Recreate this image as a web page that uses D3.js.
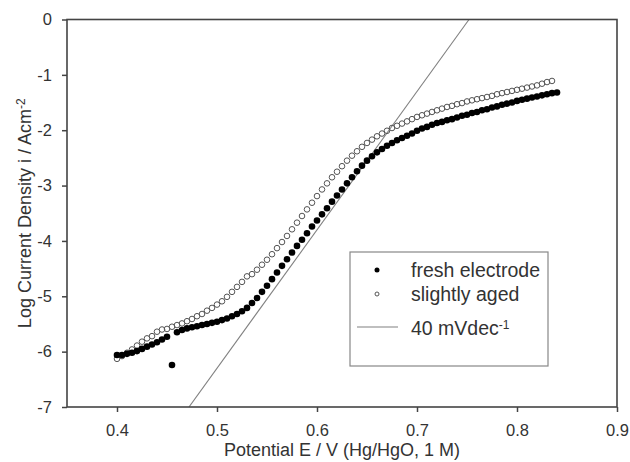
<!DOCTYPE html>
<html>
<head>
<meta charset="utf-8">
<script src="https://cdn.jsdelivr.net/npm/d3@7"></script>
<style>
  body { margin: 0; background: #fff; }
  text { font-family: "Liberation Sans", Arial, sans-serif; fill: #333; }
</style>
</head>
<body>
<div id="graph"></div>
<script>
// potential E / V, sampled every 5 mV
var freshE0 = 0.400, agedE0 = 0.400, stepE = 0.005

// log current density, fresh electrode (filled dots)
var freshLogI = [
  -6.06, -6.06, -6.04, -6.02, -5.99, -5.95, -5.91, -5.87, -5.83, -5.78,
  -5.73, -6.24, -5.65, -5.61, -5.58, -5.56, -5.54, -5.52, -5.50, -5.48,
  -5.46, -5.43, -5.40, -5.36, -5.32, -5.27, -5.21, -5.12, -5.03, -4.92,
  -4.81, -4.69, -4.57, -4.45, -4.33, -4.21, -4.09, -3.98, -3.86, -3.74,
  -3.63, -3.52, -3.41, -3.29, -3.18, -3.07, -2.96, -2.85, -2.74, -2.64,
  -2.55, -2.47, -2.40, -2.34, -2.28, -2.23, -2.18, -2.14, -2.10, -2.06,
  -2.01, -1.97, -1.94, -1.90, -1.87, -1.85, -1.82, -1.80, -1.77, -1.74,
  -1.72, -1.69, -1.67, -1.64, -1.62, -1.59, -1.57, -1.54, -1.52, -1.50,
  -1.47, -1.45, -1.43, -1.41, -1.39, -1.37, -1.35, -1.33, -1.32
]

// log current density, slightly aged (open circles)
var agedLogI = [
  -6.13, -6.08, -6.02, -5.96, -5.89, -5.82, -5.76, -5.72, -5.64, -5.60,
  -5.59, -5.55, -5.52, -5.49, -5.45, -5.41, -5.36, -5.32, -5.26, -5.21,
  -5.15, -5.09, -5.01, -4.92, -4.83, -4.74, -4.64, -4.60, -4.52, -4.43,
  -4.34, -4.24, -4.13, -4.02, -3.91, -3.79, -3.67, -3.55, -3.43, -3.31,
  -3.19, -3.07, -2.96, -2.85, -2.75, -2.65, -2.55, -2.46, -2.38, -2.30,
  -2.23, -2.17, -2.11, -2.06, -2.01, -1.96, -1.92, -1.88, -1.84, -1.80,
  -1.76, -1.73, -1.70, -1.67, -1.64, -1.61, -1.58, -1.56, -1.53, -1.51,
  -1.48, -1.46, -1.44, -1.42, -1.40, -1.38, -1.35, -1.33, -1.31, -1.29,
  -1.27, -1.25, -1.23, -1.21, -1.19, -1.16, -1.13, -1.11
]

// 40 mV/dec reference line: log i = (E - tafelE0) / tafelSlope
var tafelE0 = 0.752, tafelSlope = 0.040

var xTicks = [0.4, 0.5, 0.6, 0.7, 0.8, 0.9]
var yTicks = [0, -1, -2, -3, -4, -5, -6, -7]
var legendLabels = ['fresh electrode', 'slightly aged', '40 mVdec']

var fresh = freshLogI.map((v, i) => ({E: freshE0 + i*stepE, logI: v}))
var aged = agedLogI.map((v, i) => ({E: agedE0 + i*stepE, logI: v}))

var W = 630, H = 462
var margin = {top: 19.5, left: 67, right: 13, bottom: 55}
var width = W - margin.left - margin.right
var height = H - margin.top - margin.bottom

var svg = d3.select('#graph').append('svg')
  .attr('width', W).attr('height', H)

var g = svg.append('g')
  .attr('transform', `translate(${margin.left},${margin.top})`)

var x = d3.scaleLinear().domain([0.35, 0.9]).range([0, width])
var y = d3.scaleLinear().domain([-7, 0]).range([height, 0])

g.append('clipPath').attr('id', 'clip')
  .append('rect').attr('width', width).attr('height', height)

// tafel line from the bottom to the top of the y domain
var tafel = y.domain().map(l => ({E: tafelE0 + l*tafelSlope, logI: l}))
g.append('path')
  .datum(tafel)
  .attr('clip-path', 'url(#clip)')
  .attr('d', d3.line().x(d => x(d.E)).y(d => y(d.logI)))
  .attr('stroke', '#808080').attr('stroke-width', 1.1).attr('fill', 'none')

g.selectAll('circle.aged').data(aged).join('circle')
  .attr('class', 'aged')
  .attr('cx', d => x(d.E)).attr('cy', d => y(d.logI))
  .attr('r', 2.8)
  .attr('fill', 'none').attr('stroke', '#555').attr('stroke-width', 1)

g.selectAll('circle.fresh').data(fresh).join('circle')
  .attr('class', 'fresh')
  .attr('cx', d => x(d.E)).attr('cy', d => y(d.logI))
  .attr('r', 3.3)
  .attr('fill', '#000')

// axes
var xAxis = g.append('g')
  .attr('transform', `translate(0,${height})`)
  .call(d3.axisBottom(x).tickValues(xTicks).tickFormat(d3.format('.1f'))
    .tickSize(5).tickPadding(12).tickSizeOuter(0))

var yAxis = g.append('g')
  .call(d3.axisLeft(y).tickValues(yTicks).tickFormat(d => d)
    .tickSize(5).tickPadding(10).tickSizeOuter(0))

g.selectAll('.domain').remove()
g.selectAll('.tick line').attr('stroke', '#444').attr('stroke-width', 1.5)
g.selectAll('.tick text')
  .attr('font-size', 16.5)
  .attr('font-family', '"Liberation Sans", Arial, sans-serif')
  .attr('fill', '#333')

// frame
g.append('rect')
  .attr('width', width).attr('height', height)
  .attr('fill', 'none').attr('stroke', '#444').attr('stroke-width', 1.6)

// axis titles
svg.append('text')
  .attr('x', margin.left + width/2).attr('y', 456)
  .attr('text-anchor', 'middle').attr('font-size', 18)
  .text('Potential E / V (Hg/HgO, 1 M)')

var yt = svg.append('text')
  .attr('transform', `translate(31,${margin.top + height/2}) rotate(-90)`)
  .attr('text-anchor', 'middle').attr('font-size', 18)
yt.append('tspan').text('Log Current Density i / Acm')
yt.append('tspan').attr('dy', '-0.5em').attr('font-size', 12).text('-2')

// legend
var leg = svg.append('g').attr('transform', 'translate(350,252)')
leg.append('rect')
  .attr('width', 198).attr('height', 114)
  .attr('fill', '#fff').attr('stroke', '#888').attr('stroke-width', 1.2)

leg.append('circle').attr('cx', 27).attr('cy', 18).attr('r', 2.5).attr('fill', '#000')
leg.append('circle').attr('cx', 27).attr('cy', 42).attr('r', 2)
  .attr('fill', 'none').attr('stroke', '#555').attr('stroke-width', 1)
leg.append('line').attr('x1', 7).attr('x2', 48).attr('y1', 75).attr('y2', 75)
  .attr('stroke', '#808080').attr('stroke-width', 1.1)

leg.selectAll('text.lab').data(legendLabels).join('text')
  .attr('class', 'lab')
  .attr('x', 61).attr('y', (d, i) => [25, 49, 83][i])
  .attr('font-size', 19.5)
  .text(d => d)
  .filter((d, i) => i == 2)
  .append('tspan').attr('dy', '-0.5em').attr('font-size', 12).text('-1')
</script>
</body>
</html>
